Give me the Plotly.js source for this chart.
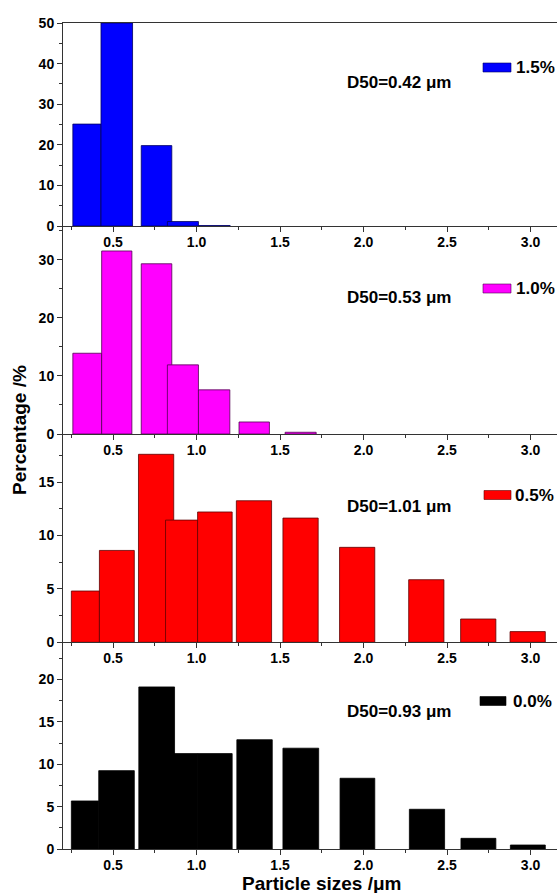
<!DOCTYPE html>
<html><head><meta charset="utf-8">
<script src="https://cdn.plot.ly/plotly-3.0.1.min.js"></script>
<style>html,body{margin:0;padding:0;background:#fff}#chart{width:558px;height:893px}</style>
</head><body><div id="chart"></div>
<script>
// ---- data ----
const seriesLabels = ['1.5%', '1.0%', '0.5%', '0.0%'];
const d50Labels = ['D50=0.42 μm', 'D50=0.53 μm', 'D50=1.01 μm', 'D50=0.93 μm'];
const xTitle = 'Particle sizes /μm';
const yTitle = 'Percentage /%';

// bin centres (μm), bin widths (μm), percentage
const size15 = [0.343, 0.522, 0.760, 0.918, 1.106];
const width15 = [0.168, 0.189, 0.183, 0.186, 0.190];
const pct15 = [25.1, 50.0, 19.8, 1.1, 0.1];

const size10 = [0.345, 0.522, 0.760, 0.918, 1.105, 1.345, 1.623];
const width10 = [0.172, 0.181, 0.183, 0.186, 0.188, 0.182, 0.186];
const pct10 = [13.9, 31.5, 29.3, 11.9, 7.6, 2.07, 0.3];

const size05 = [0.334, 0.5225, 0.7575, 0.910, 1.1095, 1.3435, 1.6225, 1.9615, 2.3755, 2.6865, 2.9825];
const width05 = [0.168, 0.209, 0.211, 0.192, 0.207, 0.211, 0.211, 0.211, 0.211, 0.211, 0.211];
const pct05 = [4.8, 8.6, 17.6, 11.44, 12.2, 13.25, 11.63, 8.89, 5.86, 2.18, 1.0];

const size00 = [0.332, 0.5205, 0.761, 0.910, 1.1095, 1.347, 1.624, 1.963, 2.3795, 2.6875, 2.9835];
const width00 = [0.164, 0.213, 0.214, 0.192, 0.207, 0.212, 0.214, 0.208, 0.211, 0.209, 0.209];
const pct00 = [5.67, 9.25, 19.13, 11.26, 11.26, 12.9, 11.9, 8.35, 4.69, 1.26, 0.47];

// ---- styling / layout ----
const colors = ['#0000FF', '#FF00FF', '#FF0000', '#000000'];
const edgeColors = ['#000060', '#500050', '#600000', '#000000'];
const sizes = [size15, size10, size05, size00];
const widths = [width15, width10, width05, width00];
const pcts = [pct15, pct10, pct05, pct00];

const W = 558, H = 893;
const M = {l: 63, r: 1, t: 23, b: 44};
const PW = W - M.l - M.r, PH = H - M.t - M.b;
const px2x = px => (px - M.l) / PW;
const px2y = py => (H - M.b - py) / PH;

const panelEdges = [23, 226, 434, 642.3, 849];
const yMax = [50, 35.8, 19.5, 24.4];
const yDtick = [10, 10, 5, 5];
const yMinor = [5, 5, 2.5, 2.5];
const legendY = [67.5, 288.5, 495, 701];
const legendX = [[483, 511, 514], [483, 511, 514], [484, 511, 513], [480, 506, 511]];
const d50Y = [83, 297, 506, 711];

const FONT = 'Arial, "Liberation Sans", sans-serif';
const axisCol = '#333';

const traces = [];
const layout = {
  width: W, height: H, margin: M,
  paper_bgcolor: '#fff', plot_bgcolor: '#fff',
  showlegend: false, barmode: 'overlay',
  font: {family: FONT, color: '#000'},
  shapes: [], annotations: []
};

for (let i = 0; i < 4; i++) {
  const n = i === 0 ? '' : String(i + 1);
  traces.push({
    type: 'bar', x: sizes[i], y: pcts[i], width: widths[i],
    name: seriesLabels[i], xaxis: 'x' + n, yaxis: 'y' + n,
    marker: {color: colors[i], line: {color: edgeColors[i], width: 0.8}},
    hoverinfo: 'x+y'
  });
  const dom = [px2y(panelEdges[i + 1]), px2y(panelEdges[i])];
  layout['xaxis' + n] = {
    range: [0.2, 0.2 + PW / 167], anchor: 'y' + n,
    showline: true, linecolor: axisCol, linewidth: 1, mirror: i === 0,
    ticks: 'outside', ticklen: 5, tickwidth: 1, tickcolor: axisCol,
    tick0: 0, dtick: 0.5, tickformat: '.1f', ticklabelstandoff: -2,
    minor: {tick0: 0, dtick: 0.25, ticks: 'outside', ticklen: 3, tickcolor: axisCol},
    tickfont: {family: FONT, size: 14, weight: 'bold', color: '#000'},
    showgrid: false, zeroline: false, fixedrange: true
  };
  layout['yaxis' + n] = {
    domain: dom, range: [0, yMax[i]], anchor: 'x' + n,
    showline: true, linecolor: axisCol, linewidth: 1,
    ticks: 'outside', ticklen: 5, tickwidth: 1, tickcolor: axisCol,
    tick0: 0, dtick: yDtick[i],
    minor: {tick0: 0, dtick: yMinor[i], ticks: 'outside', ticklen: 3, tickcolor: axisCol},
    tickfont: {family: FONT, size: 14, weight: 'bold', color: '#000'},
    showgrid: false, zeroline: false, fixedrange: true
  };
  // legend swatch + label
  layout.shapes.push({
    type: 'rect', xref: 'paper', yref: 'paper',
    x0: px2x(legendX[i][0]), x1: px2x(legendX[i][1]),
    y0: px2y(legendY[i] + 4.5), y1: px2y(legendY[i] - 4.5),
    fillcolor: colors[i], line: {color: edgeColors[i], width: 0.6}
  });
  layout.annotations.push({
    xref: 'paper', yref: 'paper', x: px2x(legendX[i][2]), y: px2y(legendY[i]),
    xanchor: 'left', yanchor: 'middle', showarrow: false,
    text: seriesLabels[i], font: {family: FONT, size: 17, weight: 'bold', color: '#000'}
  });
  layout.annotations.push({
    xref: 'paper', yref: 'paper', x: px2x(345), y: px2y(d50Y[i]),
    xanchor: 'left', yanchor: 'middle', showarrow: false,
    text: d50Labels[i], font: {family: FONT, size: 17, weight: 'bold', color: '#000'}
  });
}

layout.annotations.push({
  xref: 'paper', yref: 'paper', x: px2x(322), y: px2y(883.5),
  xanchor: 'center', yanchor: 'middle', showarrow: false,
  text: xTitle, font: {family: FONT, size: 19, weight: 'bold', color: '#000'}
});
layout.annotations.push({
  xref: 'paper', yref: 'paper', x: px2x(19), y: px2y(430),
  xanchor: 'center', yanchor: 'middle', showarrow: false, textangle: -90,
  text: yTitle, font: {family: FONT, size: 19, weight: 'bold', color: '#000'}
});

Plotly.newPlot('chart', traces, layout, {displayModeBar: false, staticPlot: true});
</script>
</body></html>
